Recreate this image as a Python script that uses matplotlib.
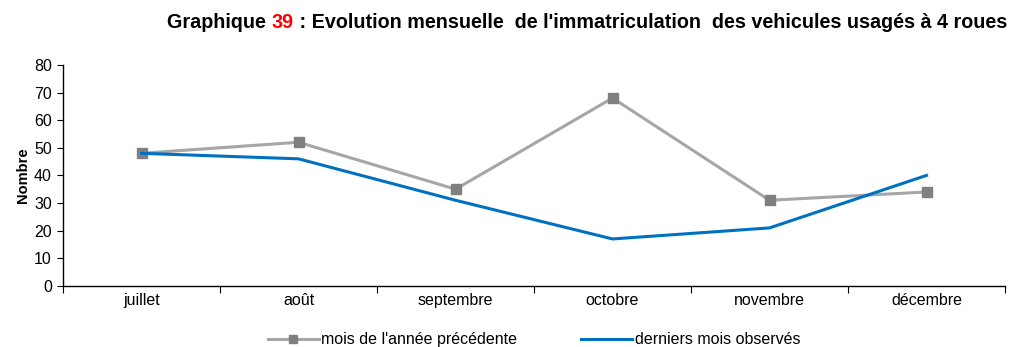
import matplotlib
matplotlib.use('Agg')
import matplotlib.pyplot as plt
import numpy as np

plt.rcParams['font.family'] = ['Liberation Sans', 'DejaVu Sans']

# données mensuelles
mois = ['juillet', 'août', 'septembre', 'octobre', 'novembre', 'décembre']
annee_precedente = [48, 52, 35, 68, 31, 34]
derniers_mois = [48, 46, 31, 17, 21, 40]

x = np.arange(len(mois))

fig = plt.figure(figsize=(10.25, 3.47), dpi=100)
ax = fig.add_axes([0.0615, 0.176, 0.919, 0.637])

ax.plot(x, annee_precedente, color='#A6A6A6', linewidth=2.2, marker='s',
        markersize=7, markerfacecolor='#808080', markeredgecolor='#808080',
        label="mois de l'année précédente")
ax.plot(x, derniers_mois, color='#0070C0', linewidth=2.2,
        label='derniers mois observés')

ax.set_xlim(-0.5, len(mois) - 0.5)
ax.set_ylim(0, 80)
ax.set_yticks(np.arange(0, 81, 10))
# étiquettes centrées, graduations entre les catégories
ax.set_xticks(np.arange(-0.5, len(mois), 1))
ax.set_xticklabels([])
ax.set_xticks(x, minor=True)
ax.set_xticklabels(mois, minor=True, fontsize=11.5)
ax.tick_params(axis='x', which='minor', length=0, pad=5)
ax.tick_params(axis='x', which='major', length=5, direction='out')
ax.tick_params(axis='y', length=4, direction='out', labelsize=11.5, pad=4)

for s in ['top', 'right']:
    ax.spines[s].set_visible(False)
ax.spines['left'].set_linewidth(1)
ax.spines['bottom'].set_linewidth(1)

ax.set_ylabel('Nombre', fontsize=10.5, fontweight='bold', labelpad=3)

ax.legend(loc='upper center', bbox_to_anchor=(0.5, -0.145), ncol=2,
          frameon=False, fontsize=11.5, handlelength=3.2, columnspacing=4,
          handletextpad=0.15, markerscale=0.9)

# titre avec le numéro en rouge
fig.canvas.draw()
renderer = fig.canvas.get_renderer()
morceaux = [('Graphique ', 'black'), ('39', 'red'),
            (" : Evolution mensuelle  de l'immatriculation  des vehicules usagés à 4 roues", 'black')]
textes = []
largeurs = []
for txt, col in morceaux:
    t = fig.text(0, 1 - 28 / 347, txt, color=col, fontsize=14.2,
                 fontweight='bold', ha='left', va='baseline')
    largeurs.append(t.get_window_extent(renderer=renderer).width / fig.bbox.width)
    textes.append(t)
xpos = 587 / 1025 - sum(largeurs) / 2
for t, w in zip(textes, largeurs):
    t.set_x(xpos)
    xpos += w

fig.savefig('out.png', dpi=100)
